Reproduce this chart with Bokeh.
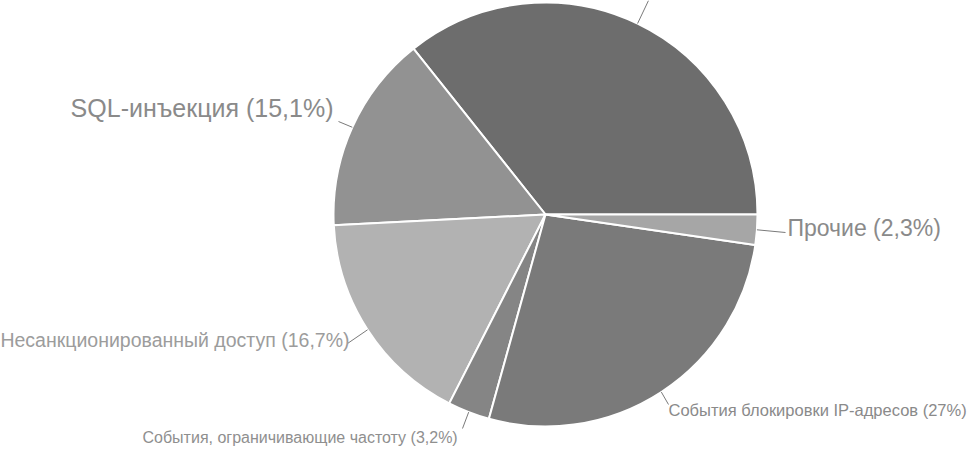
import math
from bokeh.plotting import figure
from bokeh.models import Range1d, ColumnDataSource
from bokeh.core.properties import value
from bokeh.embed import file_html
from bokeh.resources import INLINE

# ---- data ----
categories = ["(верхняя метка)", "SQL-инъекция", "Несанкционированный доступ",
              "События, ограничивающие частоту", "События блокировки IP-адресов", "Прочие"]
shares = [35.7, 15.1, 16.7, 3.2, 27.0, 2.3]
label_texts = ["", "SQL-инъекция (15,1%)", "Несанкционированный доступ (16,7%)",
               "События, ограничивающие частоту (3,2%)", "События блокировки IP-адресов (27%)",
               "Прочие (2,3%)"]
colors = ["#6d6d6d", "#929292", "#b2b2b2", "#858585", "#7a7a7a", "#a6a6a6"]

# ---- layout ----
W, H = 969, 449
def px(X, Y):
    return X, H - Y

cx, cy = px(545, 214)
R = 212

total = sum(shares)
starts, ends, mids = [], [], []
a = 0.0
for s in shares:
    da = 2 * math.pi * s / total
    starts.append(a)
    ends.append(a + da)
    mids.append(a + da / 2)
    a += da

p = figure(width=W, height=H, output_backend="svg", toolbar_location=None,
           x_range=Range1d(0, W), y_range=Range1d(0, H), min_border=0)
p.axis.visible = False
p.grid.visible = False
p.outline_line_color = None
p.background_fill_color = "white"
p.border_fill_color = "white"

src = ColumnDataSource(dict(start=starts, end=ends, color=colors,
                            x=[cx] * len(shares), y=[cy] * len(shares)))
p.wedge(x="x", y="y", radius=R, start_angle="start", end_angle="end",
        fill_color="color", line_color="white", line_width=2, source=src)

# leader-line end points (page px), same order as the slices
leader_ends = [(648, 0), (338, 121), (347, 343), (462, 428), (668, 404), (785, 232)]
xs, ys = [], []
for i, m in enumerate(mids):
    lx, ly = px(*leader_ends[i])
    xs.append([cx + R * math.cos(m), lx])
    ys.append([cy + R * math.sin(m), ly])
p.multi_line(xs=xs, ys=ys, line_color="#7a7a7a", line_width=1)

# label anchors (page px), alignment, size, colour
label_pos = [None,
             (333, 107, "right", 25, "#8a8a8a"),
             (349, 339, "right", 19.5, "#9c9c9c"),
             (142, 437, "left", 16, "#8f8f8f"),
             (668, 409, "left", 16.5, "#8a8a8a"),
             (787, 227, "left", 23, "#8a8a8a")]

for i, lp in enumerate(label_pos):
    if lp is None:
        continue
    X, Y, align, size, col = lp
    tx, ty = px(X, Y)
    p.text(x=[tx], y=[ty], text=[label_texts[i]], text_align=align,
           text_baseline="middle", text_font=value("Liberation Sans"),
           text_font_size=f"{size}px", text_color=col)

open("out.html", "w").write(file_html(p, INLINE))
